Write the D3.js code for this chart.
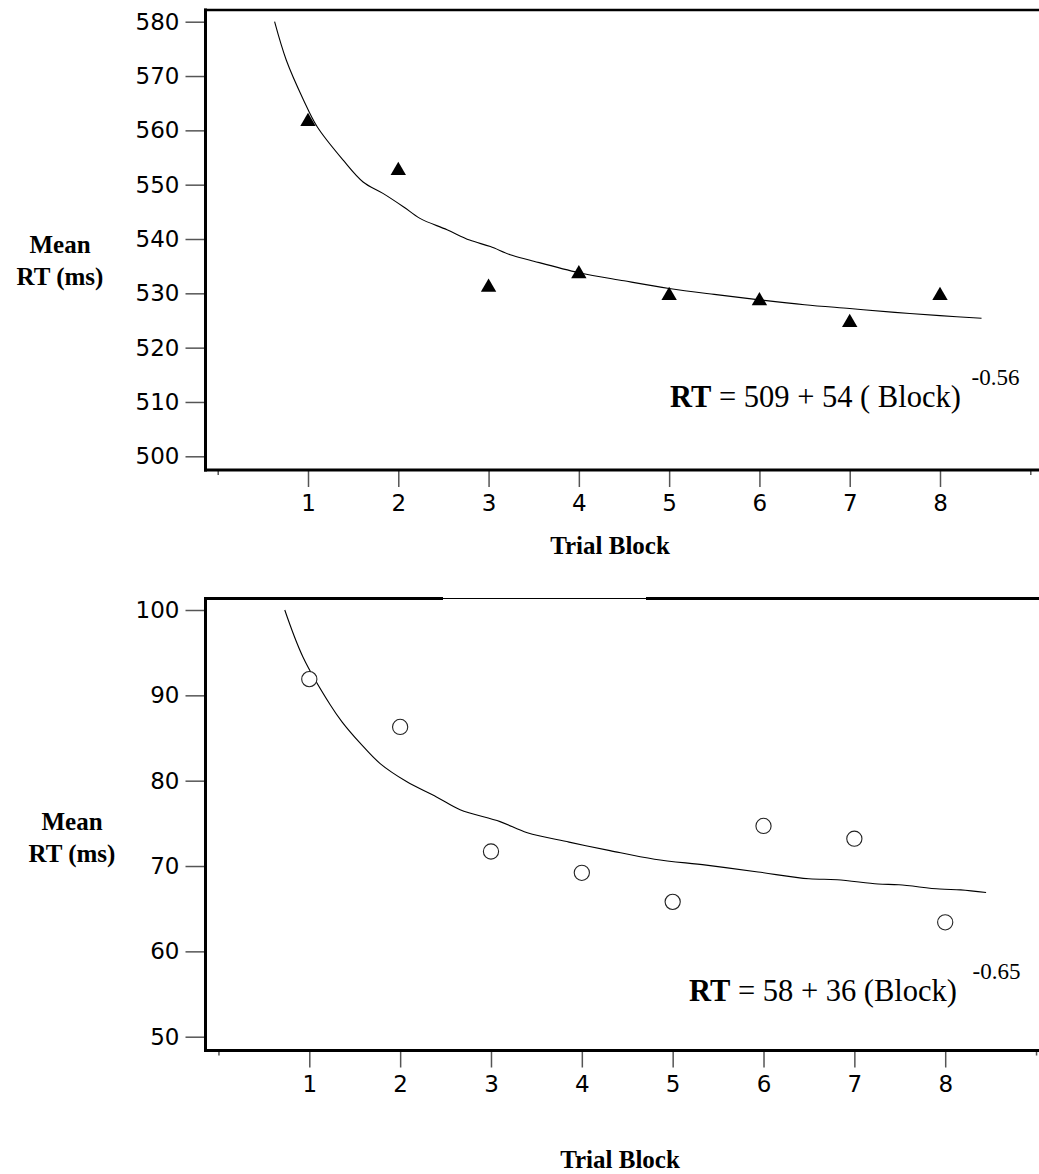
<!DOCTYPE html>
<html lang="en">
<head>
  <meta charset="UTF-8" />
  <title>Mean RT by Trial Block</title>
  <script src="https://cdn.jsdelivr.net/npm/d3@7"></script>
  <style>
    html, body { margin: 0; padding: 0; background: #fff; }
    svg { display: block; }
    .tick text { font-family: "DejaVu Sans", sans-serif; font-size: 23px; fill: #000; }
    .tick line { stroke: #555; stroke-width: 1.5; }
    .serif { font-family: "Liberation Serif", "Times New Roman", serif; fill: #000; }
  </style>
</head>
<body>
<script>
  // ------ data ------
  const blocks = [1, 2, 3, 4, 5, 6, 7, 8];
  const topMeans = [562, 553, 531.5, 534, 530, 529, 525, 530];
  const bottomMeans = [91.9, 86.3, 71.7, 69.2, 65.8, 74.7, 73.2, 63.4];

  // fitted curves, [block, RT]
  const topCurve = [
    [0.63, 580], [0.76, 572.9], [0.95, 565.6], [1.1, 560.7], [1.39, 554.5],
    [1.61, 550.5], [1.83, 548.4], [2.06, 545.9], [2.24, 543.8], [2.54, 541.7],
    [2.79, 539.8], [3.02, 538.6], [3.24, 537.1], [3.46, 536.1], [4, 533.8],
    [4.5, 532.3], [5, 530.9], [5.5, 529.8], [6, 528.8], [6.5, 527.9],
    [7, 527.2], [7.5, 526.5], [8, 525.9], [8.46, 525.4]
  ];
  const bottomCurve = [
    [0.73, 100], [0.93, 94.5], [1.23, 88.9], [1.36, 86.9], [1.56, 84.4],
    [1.78, 82.0], [2.07, 79.9], [2.4, 78.1], [2.66, 76.6], [3.1, 75.2],
    [3.4, 73.9], [3.86, 72.8], [4.31, 71.8], [4.8, 70.8], [5.37, 70.1],
    [5.94, 69.3], [6.5, 68.5], [6.81, 68.4], [7.26, 67.9], [7.49, 67.8],
    [7.94, 67.3], [8.17, 67.2], [8.45, 66.9]
  ];

  const topTicks = [500, 510, 520, 530, 540, 550, 560, 570, 580];
  const bottomTicks = [50, 60, 70, 80, 90, 100];
  const minorBlocks = [0, 9];

  const W = 1039, H = 1174;
  const svg = d3.select("body").append("svg").attr("width", W).attr("height", H);

  function panel(cfg) {
    const g = svg.append("g");
    const x = d3.scaleLinear().domain([1, 8]).range(cfg.xRange);
    const y = d3.scaleLinear().domain(cfg.yDomain).range(cfg.yRange);

    // y axis ticks
    g.append("g")
      .attr("transform", `translate(${cfg.left},0)`)
      .call(d3.axisLeft(y).tickValues(cfg.yTicks).tickSize(20).tickPadding(6).tickFormat(d3.format("d")))
      .call(a => a.select(".domain").remove());

    // x axis ticks
    g.append("g")
      .attr("transform", `translate(0,${cfg.bottom})`)
      .call(d3.axisBottom(x).tickValues(blocks).tickSize(17).tickPadding(8).tickFormat(d3.format("d")))
      .call(a => a.select(".domain").remove());
    g.append("g")
      .attr("transform", `translate(0,${cfg.bottom})`)
      .call(d3.axisBottom(x).tickValues(minorBlocks).tickSize(5).tickFormat(""))
      .call(a => a.select(".domain").remove());

    // frame
    const frame = (x1, y1, x2, y2, w) => g.append("line")
      .attr("x1", x1).attr("y1", y1).attr("x2", x2).attr("y2", y2)
      .attr("stroke", "#000").attr("stroke-width", w);
    frame(cfg.left, cfg.top - 1.5, cfg.left, cfg.bottom + 1.5, 3);
    frame(cfg.left - 1.5, cfg.bottom, W, cfg.bottom, 3);
    cfg.topSegments.forEach(s => frame(s[0], cfg.top, s[1], cfg.top, s[2]));

    // fitted curve
    g.append("path")
      .datum(cfg.curve)
      .attr("fill", "none")
      .attr("stroke", "#000")
      .attr("stroke-width", 1.1)
      .attr("d", d3.line().x(d => x(d[0])).y(d => y(d[1])).curve(d3.curveCatmullRom));

    // points
    const pts = blocks.map((b, i) => [b, cfg.values[i]]);
    if (cfg.marker === "triangle") {
      g.selectAll("path.pt").data(pts).join("path")
        .attr("class", "pt")
        .attr("fill", "#000")
        .attr("d", d => {
          const cx = x(d[0]), cy = y(d[1]);
          return `M${cx},${cy - 6.7}L${cx + 7.7},${cy + 6.6}L${cx - 7.7},${cy + 6.6}Z`;
        });
    } else {
      g.selectAll("circle.pt").data(pts).join("circle")
        .attr("class", "pt")
        .attr("cx", d => x(d[0])).attr("cy", d => y(d[1]))
        .attr("r", 7.6)
        .attr("fill", "#fff")
        .attr("stroke", "#222")
        .attr("stroke-width", 1.1);
    }

    // y label
    const yl = g.append("text").attr("class", "serif")
      .attr("text-anchor", "middle")
      .attr("font-weight", "bold")
      .attr("font-size", 25);
    yl.append("tspan").attr("x", cfg.yLabel[0]).attr("y", cfg.yLabel[1]).text("Mean");
    yl.append("tspan").attr("x", cfg.yLabel[0]).attr("y", cfg.yLabel[1] + 32).text("RT (ms)");

    // x label
    g.append("text").attr("class", "serif")
      .attr("x", cfg.xLabel[0]).attr("y", cfg.xLabel[1])
      .attr("text-anchor", "middle")
      .attr("font-weight", "bold")
      .attr("font-size", 25)
      .text("Trial Block");

    // equation
    const eq = g.append("text").attr("class", "serif")
      .attr("x", cfg.eqPos[0]).attr("y", cfg.eqPos[1])
      .attr("font-size", 30.5);
    eq.append("tspan").attr("font-weight", "bold").text("RT");
    eq.append("tspan").text(cfg.eqText);
    g.append("text").attr("class", "serif")
      .attr("x", cfg.supPos[0]).attr("y", cfg.supPos[1])
      .attr("font-size", 23)
      .text(cfg.supText);
  }

  panel({
    values: topMeans, curve: topCurve, marker: "triangle",
    yDomain: [500, 580], yRange: [456.3, 21.7], yTicks: topTicks,
    xRange: [308, 940],
    left: 205.5, top: 10, bottom: 470,
    topSegments: [[204, W, 2.5]],
    yLabel: [60, 253], xLabel: [610, 554],
    eqPos: [670, 406.7], eqText: " = 509 + 54 ( Block)",
    supPos: [971.5, 385], supText: "-0.56"
  });

  panel({
    values: bottomMeans, curve: bottomCurve, marker: "circle",
    yDomain: [50, 100], yRange: [1036.7, 610], yTicks: bottomTicks,
    xRange: [309.3, 945.2],
    left: 205.5, top: 598.5, bottom: 1050.5,
    topSegments: [[204, 443, 3], [443, 646, 1.2], [646, W, 3]],
    yLabel: [72, 829.5], xLabel: [620, 1167.5],
    eqPos: [689, 1001], eqText: " = 58 + 36 (Block)",
    supPos: [972.5, 979.3], supText: "-0.65"
  });
</script>
</body>
</html>
